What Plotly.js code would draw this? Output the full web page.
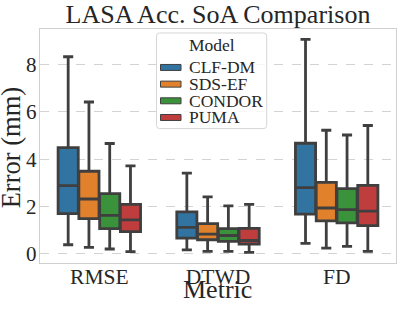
<!DOCTYPE html>
<html>
<head>
<meta charset="utf-8">
<script src="https://cdn.plot.ly/plotly-3.0.1.min.js"></script>
<style>html,body{margin:0;padding:0;background:#fff;}#chart{width:407px;height:309px;}</style>
</head>
<body>
<div id="chart"></div>
<script>
const metrics = ['RMSE', 'DTWD', 'FD'];
const models = ['CLF-DM', 'SDS-EF', 'CONDOR', 'PUMA'];
const colors = ['#3274a1', '#e1812c', '#3a923a', '#c03d3e'];

// per model: values for [RMSE, DTWD, FD]
const lowerWhisker = {
  'CLF-DM': [0.39, 0.17, 0.45],
  'SDS-EF': [0.28, 0.11, 0.25],
  'CONDOR': [0.21, 0.11, 0.32],
  'PUMA':   [0.10, 0.07, 0.11]
};
const q1 = {
  'CLF-DM': [1.70, 0.67, 1.68],
  'SDS-EF': [1.49, 0.60, 1.40],
  'CONDOR': [1.07, 0.53, 1.31],
  'PUMA':   [0.94, 0.42, 1.20]
};
const median = {
  'CLF-DM': [2.88, 1.12, 2.80],
  'SDS-EF': [2.32, 0.84, 1.94],
  'CONDOR': [1.63, 0.78, 1.87],
  'PUMA':   [1.44, 0.57, 1.81]
};
const q3 = {
  'CLF-DM': [4.49, 1.78, 4.67],
  'SDS-EF': [3.49, 1.28, 3.02],
  'CONDOR': [2.55, 1.07, 2.76],
  'PUMA':   [2.09, 1.08, 2.89]
};
const upperWhisker = {
  'CLF-DM': [8.32, 3.41, 9.05],
  'SDS-EF': [6.41, 2.41, 5.22],
  'CONDOR': [4.66, 2.03, 5.02],
  'PUMA':   [3.72, 2.09, 5.42]
};
const yTicks = [0, 2, 4, 6, 8];
const legendTitle = 'Model';
const chartTitle = 'LASA Acc. SoA Comparison';
const xTitle = 'Metric';
const yTitle = 'Error (mm)';

const FONT = 'Liberation Serif';
const TXT = '#262626';
const EDGE = '#3f3f3f';

// plot-area geometry in pixels (for legend / title placement only)
const W = 407, H = 309;
const PL = 40, PR = 396, PT = 29, PB = 263.3;
const px = v => (v - PL) / (PR - PL);
const py = v => (PB - v) / (PB - PT);

const traces = models.map((m, i) => ({
  type: 'box',
  name: m,
  x: metrics,
  q1: q1[m],
  median: median[m],
  q3: q3[m],
  lowerfence: lowerWhisker[m],
  upperfence: upperWhisker[m],
  boxpoints: false,
  fillcolor: colors[i],
  line: {color: EDGE, width: 2.8},
  whiskerwidth: 0.5,
  showlegend: false,
  hoverinfo: 'skip'
}));

// hand-built legend (matplotlib-style compact layout)
const lg = {x0: 156.5, x1: 266.7, y0: 33, y1: 128.7, r: 3};
function roundRect(b) {
  const rx = b.r / (PR - PL), ry = b.r / (PB - PT);
  const X0 = px(b.x0), X1 = px(b.x1), Yt = py(b.y0), Yb = py(b.y1);
  return `M${X0 + rx},${Yt} L${X1 - rx},${Yt} Q${X1},${Yt} ${X1},${Yt - ry} ` +
         `L${X1},${Yb + ry} Q${X1},${Yb} ${X1 - rx},${Yb} L${X0 + rx},${Yb} ` +
         `Q${X0},${Yb} ${X0},${Yb + ry} L${X0},${Yt - ry} Q${X0},${Yt} ${X0 + rx},${Yt} Z`;
}
const rowY = [67.5, 84.2, 100.9, 117.6];
const shapes = [{
  type: 'path', xref: 'paper', yref: 'paper', path: roundRect(lg),
  fillcolor: 'rgba(255,255,255,0.8)', line: {color: '#d6d6d6', width: 1}, layer: 'above'
}];
const annotations = [{
  xref: 'paper', yref: 'paper', x: px(211.5), y: py(45), xanchor: 'center', yanchor: 'middle',
  text: legendTitle, showarrow: false, font: {family: FONT, size: 17.5, color: TXT}
}];
models.forEach((m, i) => {
  shapes.push({
    type: 'rect', xref: 'paper', yref: 'paper',
    x0: px(160.5), x1: px(181), y0: py(rowY[i] + 3), y1: py(rowY[i] - 3),
    fillcolor: colors[i], line: {color: EDGE, width: 1}, layer: 'above'
  });
  annotations.push({
    xref: 'paper', yref: 'paper', x: px(187), y: py(rowY[i]), xanchor: 'left', yanchor: 'middle',
    text: m, showarrow: false, font: {family: FONT, size: 17.5, color: TXT}
  });
});
// axis titles (placed like matplotlib labels)
annotations.push({
  xref: 'paper', yref: 'paper', x: px(217.5), y: py(289.5), xanchor: 'center', yanchor: 'middle',
  text: xTitle, showarrow: false, font: {family: FONT, size: 26, color: TXT}
});
annotations.push({
  xref: 'paper', yref: 'paper', x: px(11), y: py(148.5), xanchor: 'center', yanchor: 'middle',
  textangle: -90, text: yTitle, showarrow: false, font: {family: FONT, size: 26.5, color: TXT}
});

const layout = {
  width: W, height: H,
  margin: {l: PL, r: W - PR, t: PT, b: H - PB},
  paper_bgcolor: '#ffffff',
  plot_bgcolor: '#ffffff',
  font: {family: FONT, color: TXT, size: 21},
  title: {text: chartTitle, font: {family: FONT, size: 26, color: TXT},
          xref: 'paper', x: 0.5, xanchor: 'center', yref: 'container', y: 1 - 13.8 / H, yanchor: 'middle'},
  boxmode: 'group',
  boxgap: 0.3,
  boxgroupgap: 0.03,
  showlegend: false,
  shapes: shapes,
  annotations: annotations,
  xaxis: {
    type: 'category',
    range: [-0.5, 2.5],
    showgrid: false,
    showline: true, mirror: true, linecolor: '#d0d0d0', linewidth: 1.3,
    ticks: '', ticklen: 0, ticklabelstandoff: -6,
    tickfont: {family: FONT, size: 21.5, color: TXT},
    zeroline: false, fixedrange: true, automargin: false
  },
  yaxis: {
    range: [-0.38, 9.49],
    tickvals: yTicks,
    ticktext: yTicks.map(String),
    showgrid: true, gridcolor: '#d3d3d3', griddash: 'dash', gridwidth: 1,
    showline: true, mirror: true, linecolor: '#d0d0d0', linewidth: 1.3,
    ticks: '', ticklen: 0, ticklabelstandoff: -2,
    tickfont: {family: FONT, size: 21, color: TXT},
    zeroline: false, fixedrange: true, automargin: false
  }
};

Plotly.newPlot('chart', traces, layout, {displayModeBar: false, staticPlot: true});
</script>
</body>
</html>
